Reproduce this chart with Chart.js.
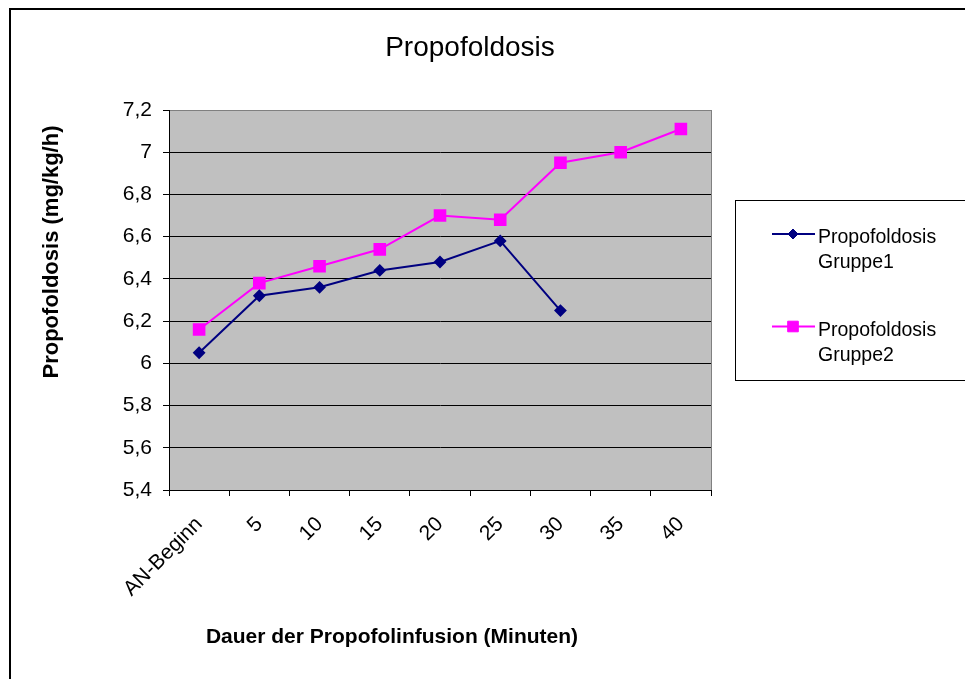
<!DOCTYPE html>
<html lang="de">
<head>
<meta charset="utf-8">
<title>Propofoldosis</title>
<script src="https://cdn.jsdelivr.net/npm/chart.js@4/dist/chart.umd.min.js"></script>
<style>
  html, body { margin: 0; padding: 0; background: #fff; }
  #wrap { width: 965px; height: 679px; }
</style>
</head>
<body>
<div id="wrap"><canvas id="dosis" width="965" height="679"></canvas></div>
<script>
// Messzeitpunkte (Minuten nach Beginn der Infusion)
const zeitpunkte = ['AN-Beginn', '5', '10', '15', '20', '25', '30', '35', '40'];
// Propofoldosis in mg/kg/h
const gruppe1 = [6.05, 6.32, 6.36, 6.44, 6.48, 6.58, 6.25, null, null];
const gruppe2 = [6.16, 6.38, 6.46, 6.54, 6.70, 6.68, 6.95, 7.00, 7.11];
const yTicks = { min: 5.4, max: 7.2, step: 0.2 };

const FONT = 'Arial, "Liberation Sans", sans-serif';

// Rahmen, graue Zeichenfläche, Titel, Achsentitel und Legende im Excel-Stil
const excelFrame = {
  id: 'excelFrame',
  beforeDraw(chart) {
    const { ctx, chartArea: a } = chart;
    ctx.save();
    ctx.fillStyle = '#fff';
    ctx.fillRect(0, 0, chart.width, chart.height);
    ctx.fillStyle = '#000';
    ctx.fillRect(9, 8, chart.width - 9, 2);
    ctx.fillRect(9, 8, 2, chart.height - 8);
    ctx.fillStyle = '#C0C0C0';
    ctx.fillRect(a.left, a.top, a.right - a.left, a.bottom - a.top);
    ctx.strokeStyle = '#808080';
    ctx.lineWidth = 1;
    ctx.strokeRect(a.left + 0.5, a.top + 0.5, a.right - a.left, a.bottom - a.top);
    ctx.restore();
  },
  afterDraw(chart) {
    const { ctx } = chart;
    ctx.save();
    ctx.fillStyle = '#000';
    ctx.textBaseline = 'alphabetic';

    ctx.textAlign = 'center';
    ctx.font = '28px ' + FONT;
    ctx.fillText('Propofoldosis', 470, 56);

    ctx.font = 'bold 21px ' + FONT;
    ctx.fillText('Dauer der Propofolinfusion (Minuten)', 392, 643);

    ctx.save();
    ctx.translate(58, 252);
    ctx.rotate(-Math.PI / 2);
    ctx.font = 'bold 22px ' + FONT;
    ctx.fillText('Propofoldosis (mg/kg/h)', 0, 0);
    ctx.restore();

    // Legende
    ctx.strokeStyle = '#000';
    ctx.lineWidth = 1;
    ctx.strokeRect(735.5, 200.5, 260, 180);
    ctx.textAlign = 'left';
    ctx.font = '19.5px ' + FONT;
    chart.data.datasets.forEach((ds, i) => {
      const y = 234 + i * 92.5;
      ctx.strokeStyle = ds.borderColor;
      ctx.lineWidth = 2;
      ctx.beginPath();
      ctx.moveTo(772, y);
      ctx.lineTo(815, y);
      ctx.stroke();
      ctx.fillStyle = ds.pointBackgroundColor;
      ctx.strokeStyle = ds.borderColor;
      ctx.lineWidth = 1;
      Chart.helpers.drawPoint(ctx, {
        pointStyle: ds.pointStyle, radius: ds.pointRadius, rotation: 0, borderWidth: 1
      }, 793, y);
      ctx.fillStyle = '#000';
      ds.label.split(' ').forEach((line, j) => {
        ctx.fillText(line, 818, y + 9 + j * 25);
      });
    });
    ctx.restore();
  }
};

const fmt = v => String(Math.round(v * 10) / 10).replace('.', ',');

new Chart(document.getElementById('dosis'), {
  type: 'line',
  data: {
    labels: zeitpunkte,
    datasets: [
      {
        label: 'Propofoldosis Gruppe1',
        data: gruppe1,
        borderColor: '#000080',
        backgroundColor: '#000080',
        pointBackgroundColor: '#000080',
        pointBorderColor: '#000080',
        pointStyle: 'rectRot',
        pointRadius: 5,
        borderWidth: 2,
        tension: 0
      },
      {
        label: 'Propofoldosis Gruppe2',
        data: gruppe2,
        borderColor: '#FF00FF',
        backgroundColor: '#FF00FF',
        pointBackgroundColor: '#FF00FF',
        pointBorderColor: '#FF00FF',
        pointStyle: 'rect',
        pointRadius: 7.5,
        borderWidth: 2,
        tension: 0
      }
    ]
  },
  options: {
    responsive: false,
    animation: false,
    layout: { padding: { top: 110, right: 254, bottom: 0, left: 0 } },
    plugins: {
      legend: { display: false },
      title: { display: false },
      tooltip: { enabled: false }
    },
    scales: {
      x: {
        offset: true,
        grid: { offset: true, drawOnChartArea: false, drawTicks: true, tickLength: 6, color: '#000' },
        border: { color: '#000', width: 1 },
        ticks: {
          color: '#000',
          font: { family: FONT, size: 21 },
          minRotation: 45,
          maxRotation: 45,
          autoSkip: false,
          padding: 16
        },
        afterFit(scale) { scale.height = 679 - 490; }
      },
      y: {
        min: yTicks.min,
        max: yTicks.max,
        grid: {
          color: ctx => (ctx.tick && Math.abs(ctx.tick.value - yTicks.max) < 1e-6 ? '#808080' : '#000'),
          tickColor: '#000',
          tickLength: 6
        },
        border: { color: '#000', width: 1 },
        ticks: {
          stepSize: yTicks.step,
          color: '#000',
          font: { family: FONT, size: 21 },
          padding: 11,
          callback: v => fmt(v)
        },
        afterFit(scale) { scale.width = 169; }
      }
    }
  },
  plugins: [excelFrame]
});
</script>
</body>
</html>
